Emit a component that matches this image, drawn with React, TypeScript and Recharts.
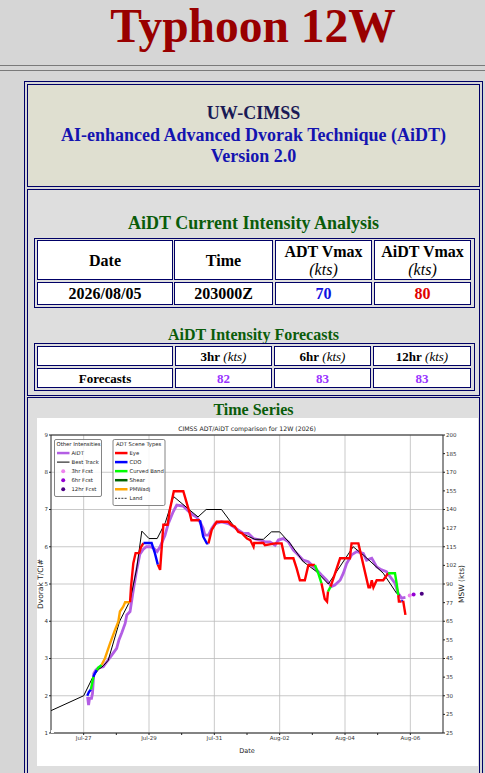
import React from 'react';
import { ComposedChart, Line, XAxis, YAxis, CartesianGrid, ReferenceLine, Label } from 'recharts';

// ---------- data ----------
const dayLabels = ['Jul-26', 'Jul-27', 'Jul-28', 'Jul-29', 'Jul-30', 'Jul-31', 'Aug-01', 'Aug-02', 'Aug-03', 'Aug-04', 'Aug-05', 'Aug-06', 'Aug-07'];
const xTicks = [1, 2, 3, 4, 5, 6, 7, 8, 9, 10, 11];
const labeledDays = [1, 3, 5, 7, 9, 11];
const tTicks = [1, 2, 3, 4, 5, 6, 7, 8, 9];
const mswTicks = [1, 1.5, 2, 2.5, 3, 3.5, 4, 4.5, 5, 5.5, 6, 6.5, 7, 7.5, 8, 8.5, 9];
const mswLabels = ['25', '25', '30', '35', '45', '55', '65', '77', '90', '102', '115', '127', '140', '155', '170', '185', '200'];

// days since Jul-26 00Z, Dvorak T number
const bestTrack: [number, number][] = [
  [0, 1.6], [1.0, 2.0], [1.28, 2.5], [1.45, 2.7], [1.6, 2.8], [1.75, 2.95], [2.1, 4.0], [2.42, 4.55],
  [2.62, 5.4], [2.78, 6.42], [3.0, 6.22], [3.25, 6.22], [3.5, 6.65], [3.75, 7.35], [4.5, 6.8], [4.75, 7.0],
  [5.22, 7.0], [5.73, 6.4], [6.24, 6.2], [6.5, 6.2], [6.75, 6.4], [7.0, 6.4], [7.32, 6.09], [7.72, 5.6],
  [8.13, 5.33], [8.49, 5.0], [9.25, 6.0], [9.56, 5.78], [10.17, 5.29], [10.58, 4.75], [10.68, 4.7],
];

const aidt: [number, number][] = [
  [1.12, 1.97], [1.15, 1.75], [1.18, 1.93], [1.24, 1.93], [1.27, 2.06], [1.31, 2.6], [1.37, 2.69], [1.45, 2.75],
  [1.6, 2.78], [1.7, 2.9], [1.86, 3.09], [2.01, 3.27], [2.08, 3.5], [2.17, 3.7], [2.27, 3.94], [2.32, 4.17],
  [2.42, 4.26], [2.52, 4.84], [2.62, 5.37], [2.72, 5.8], [2.82, 5.93], [2.92, 6.0], [3.03, 6.0], [3.13, 5.97],
  [3.25, 5.87], [3.34, 6.0], [3.49, 6.31], [3.59, 6.62], [3.74, 6.94], [3.85, 7.12], [4.05, 7.09], [4.2, 6.96],
  [4.35, 6.85], [4.45, 6.8], [4.56, 6.67], [4.66, 6.49], [4.71, 6.31], [4.82, 6.31], [4.92, 6.49], [5.02, 6.62],
  [5.22, 6.67], [5.43, 6.62], [5.58, 6.54], [5.73, 6.45], [5.89, 6.36], [6.04, 6.36], [6.2, 6.22], [6.4, 6.18],
  [6.55, 6.13], [6.7, 6.13], [6.86, 6.04], [6.96, 6.18], [7.11, 6.22], [7.27, 6.13], [7.42, 5.91], [7.57, 5.78],
  [7.72, 5.64], [7.88, 5.6], [7.98, 5.51], [8.13, 5.38], [8.28, 5.24], [8.44, 5.1], [8.59, 4.93], [8.69, 4.97],
  [8.85, 5.1], [8.95, 5.29], [9.05, 5.55], [9.2, 5.78], [9.36, 5.87], [9.56, 5.82], [9.66, 5.64], [9.82, 5.69],
  [9.97, 5.46], [10.12, 5.38], [10.27, 5.33], [10.38, 5.2], [10.53, 5.02], [10.63, 4.75], [10.73, 4.62], [10.85, 4.64],
];

// ADT: [day, T, scene of the segment ending at this point]  E=Eye C=CDO B=Curved Band S=Shear P=PMWadj
const adtTrack: [number, number, string][] = [
  [1.11, 2.0, 'C'], [1.16, 2.1, 'C'], [1.22, 2.17, 'C'], [1.30, 2.51, 'B'], [1.32, 2.56, 'C'], [1.40, 2.69, 'C'],
  [1.45, 2.76, 'B'], [1.55, 2.83, 'B'], [1.65, 3.0, 'P'], [1.81, 3.41, 'P'], [1.96, 3.77, 'P'], [2.06, 3.99, 'P'],
  [2.11, 4.26, 'P'], [2.21, 4.39, 'P'], [2.27, 4.51, 'P'], [2.42, 4.51, 'P'], [2.45, 4.93, 'E'], [2.52, 5.56, 'E'],
  [2.59, 5.83, 'E'], [2.70, 5.83, 'E'], [2.76, 6.0, 'E'], [2.83, 6.1, 'E'], [3.08, 6.1, 'C'], [3.18, 5.83, 'C'],
  [3.27, 5.52, 'C'], [3.34, 5.38, 'E'], [3.44, 6.59, 'E'], [3.57, 6.59, 'E'], [3.64, 7.0, 'E'], [3.76, 7.49, 'E'],
  [4.05, 7.49, 'E'], [4.25, 6.89, 'E'], [4.30, 6.71, 'E'], [4.56, 6.71, 'E'], [4.66, 6.27, 'C'], [4.77, 6.09, 'C'],
  [4.82, 6.09, 'C'], [4.92, 6.45, 'E'], [5.07, 6.67, 'E'], [5.43, 6.67, 'E'], [5.53, 6.58, 'E'], [5.63, 6.54, 'E'],
  [5.73, 6.4, 'E'], [5.85, 6.36, 'E'], [6.0, 6.22, 'E'], [6.1, 6.18, 'E'], [6.2, 6.0, 'E'], [6.22, 6.1, 'E'],
  [6.5, 6.1, 'E'], [6.55, 6.04, 'E'], [6.86, 6.09, 'E'], [7.06, 6.09, 'E'], [7.16, 5.69, 'E'], [7.42, 5.69, 'E'],
  [7.52, 5.42, 'E'], [7.62, 5.1, 'E'], [7.77, 5.1, 'E'], [7.88, 5.51, 'E'], [8.08, 5.51, 'E'], [8.18, 5.29, 'B'],
  [8.28, 5.02, 'B'], [8.38, 4.6, 'E'], [8.45, 4.53, 'E'], [8.48, 4.8, 'E'], [8.56, 4.93, 'B'], [8.85, 5.69, 'E'],
  [9.15, 5.69, 'E'], [9.2, 6.09, 'E'], [9.41, 6.09, 'E'], [9.72, 4.91, 'E'], [9.77, 4.91, 'E'], [9.82, 5.1, 'E'],
  [9.87, 4.91, 'E'], [9.97, 5.1, 'E'], [10.17, 5.1, 'E'], [10.32, 5.29, 'E'], [10.53, 5.29, 'B'], [10.58, 5.02, 'B'],
  [10.63, 4.7, 'B'], [10.65, 4.53, 'E'], [10.73, 4.53, 'E'], [10.78, 4.55, 'C'], [10.85, 4.17, 'E'],
];

const fcst3: [number, number][] = [[10.98, 4.69]];
const fcst6: [number, number][] = [[11.1, 4.72]];
const fcst12: [number, number][] = [[11.35, 4.74]];

const sceneColor: Record<string, string> = { E: '#ff0000', C: '#0000ff', B: '#00ff00', S: '#006400', P: '#ffa500' };

const AIDT_C = '#b35ee4';
const F3_C = '#ee82ee';
const F6_C = '#9400d3';
const F12_C = '#4b0082';

const toPts = (a: [number, number][]) => a.map(([d, t]) => ({ d, t }));

const adtSegments: { scene: string; pts: { d: number; t: number }[] }[] = [];
for (let i = 1; i < adtTrack.length; i++) {
  const [d0, t0] = adtTrack[i - 1];
  const [d1, t1, s] = adtTrack[i];
  const last = adtSegments[adtSegments.length - 1];
  if (last && last.scene === s) last.pts.push({ d: d1, t: t1 });
  else adtSegments.push({ scene: s, pts: [{ d: d0, t: t0 }, { d: d1, t: t1 }] });
}

// ---------- page helpers ----------
const NAVY = '#000066';
const SERIF = '"Liberation Serif", "Times New Roman", serif';
const SANS = '"DejaVu Sans", Verdana, sans-serif';

const Box = ({ l, t, w, h, bg, children, style }: any) => (
  <div style={{ position: 'absolute', left: l, top: t, width: w, height: h, boxSizing: 'border-box', border: `1px solid ${NAVY}`, background: bg, ...style }}>{children}</div>
);

const Txt = ({ l, w, cy, size, color, bold = true, italic = false, lh, children }: any) => {
  const L = lh || size + 4;
  return (
    <div style={{ position: 'absolute', left: l, width: w, top: cy - L / 2, lineHeight: `${L}px`, fontSize: size, color, fontWeight: bold ? 'bold' : 'normal', fontStyle: italic ? 'italic' : 'normal', textAlign: 'center', whiteSpace: 'nowrap', fontFamily: SERIF }}>{children}</div>
  );
};

const Cell = ({ l, t, w, h, children, pt = 0 }: any) => (
  <div style={{ position: 'absolute', left: l, top: t, width: w, height: h, boxSizing: 'border-box', border: `1px solid ${NAVY}`, background: '#ffffff', display: 'flex', flexDirection: 'column', alignItems: 'center', justifyContent: 'center', paddingTop: pt, fontFamily: SERIF, textAlign: 'center', whiteSpace: 'nowrap' }}>{children}</div>
);

const tickStyle = { fontSize: 5.5, fill: '#333', fontFamily: SANS };

const LegendRow = ({ x, y, kind, color, label }: any) => (
  <g>
    {kind === 'line' && <line x1={x} x2={x + 12.5} y1={y} y2={y} stroke={color} strokeWidth={2.5} />}
    {kind === 'thin' && <line x1={x} x2={x + 12.5} y1={y} y2={y} stroke={color} strokeWidth={1} />}
    {kind === 'dash' && <line x1={x} x2={x + 12.5} y1={y} y2={y} stroke={color} strokeWidth={0.8} strokeDasharray="2 1.2" />}
    {kind === 'dot' && <circle cx={x + 6.2} cy={y} r={2} fill={color} />}
    <text x={x + 14.5} y={y} dominantBaseline="central" fontSize={5.3} fill="#222" fontFamily={SANS}>{label}</text>
  </g>
);

function TimeSeriesChart() {
  const rowY = (i: number) => 26 + i * 9.05;
  return (
    <div style={{ position: 'absolute', left: 37, top: 418, width: 441, height: 348, background: '#ffffff' }}>
      <div style={{ position: 'absolute', left: 14, width: 392, top: 7, lineHeight: '8px', fontSize: 6.2, fontFamily: SANS, color: '#222', textAlign: 'center', whiteSpace: 'nowrap' }}>
        CIMSS ADT/AiDT comparison for 12W (2026)
      </div>
      <ComposedChart width={441} height={348} margin={{ top: 17, right: 0, bottom: 0, left: 0 }}>
        <CartesianGrid yAxisId="left" vertical={false} stroke="#bbbbbb" strokeWidth={0.8} />
        {labeledDays.map((d) => (
          <ReferenceLine key={`g${d}`} x={d} yAxisId="left" stroke="#bbbbbb" strokeWidth={0.8} />
        ))}
        <ReferenceLine y={9} yAxisId="left" stroke="#222" strokeWidth={1} />
        <XAxis
          dataKey="d"
          type="number"
          domain={[0, 12]}
          allowDataOverflow
          ticks={xTicks}
          interval={0}
          tickFormatter={(v: number) => (labeledDays.includes(v) ? dayLabels[v] : '')}
          tick={tickStyle}
          tickSize={2}
          tickMargin={1}
          stroke="#222"
          height={33}
        >
          <Label value="Date" position="insideBottom" offset={13} style={{ fontSize: 6.5, fill: '#222', fontFamily: SANS }} />
        </XAxis>
        <YAxis
          yAxisId="left"
          type="number"
          domain={[1, 9]}
          allowDataOverflow
          ticks={tTicks}
          interval={0}
          tick={tickStyle}
          tickSize={2}
          tickMargin={1}
          stroke="#222"
          width={14}
        >
          <Label value="Dvorak T/CI#" angle={-90} position="center" dx={-4} style={{ fontSize: 7.5, fill: '#222', fontFamily: SANS, textAnchor: 'middle' }} />
        </YAxis>
        <YAxis
          yAxisId="right"
          orientation="right"
          type="number"
          domain={[1, 9]}
          allowDataOverflow
          ticks={mswTicks}
          interval={0}
          tickFormatter={(v: number) => mswLabels[mswTicks.indexOf(v)]}
          tick={tickStyle}
          tickSize={2}
          tickMargin={1}
          stroke="#222"
          width={35}
        >
          <Label value="MSW (kts)" angle={-90} position="center" dx={1} style={{ fontSize: 7.5, fill: '#222', fontFamily: SANS, textAnchor: 'middle' }} />
        </YAxis>
        <Line yAxisId="right" data={toPts([[0, 1]])} dataKey="t" stroke="none" dot={false} isAnimationActive={false} legendType="none" />
        <Line yAxisId="left" data={toPts(aidt)} dataKey="t" type="linear" stroke={AIDT_C} strokeWidth={2.8} dot={false} isAnimationActive={false} />
        <Line yAxisId="left" data={toPts(bestTrack)} dataKey="t" type="linear" stroke="#000000" strokeWidth={1} dot={false} isAnimationActive={false} />
        {adtSegments.map((s, i) => (
          <Line key={`s${i}`} yAxisId="left" data={s.pts} dataKey="t" type="linear" stroke={sceneColor[s.scene]} strokeWidth={2.4} dot={false} isAnimationActive={false} />
        ))}
        <Line yAxisId="left" data={toPts(fcst3)} dataKey="t" stroke="none" dot={{ r: 2, fill: F3_C, stroke: 'none' }} isAnimationActive={false} />
        <Line yAxisId="left" data={toPts(fcst6)} dataKey="t" stroke="none" dot={{ r: 2, fill: F6_C, stroke: 'none' }} isAnimationActive={false} />
        <Line yAxisId="left" data={toPts(fcst12)} dataKey="t" stroke="none" dot={{ r: 2, fill: F12_C, stroke: 'none' }} isAnimationActive={false} />
      </ComposedChart>
      <svg width={441} height={348} style={{ position: 'absolute', left: 0, top: 0, pointerEvents: 'none' }}>
        <rect x={17.5} y={21.5} width={47} height={57} rx={1.5} fill="#ffffff" fillOpacity={0.85} stroke="#666" strokeWidth={0.8} />
        <text x={19.5} y={rowY(0)} dominantBaseline="central" fontSize={5.3} fill="#222" fontFamily={SANS}>Other Intensities</text>
        <LegendRow x={20} y={rowY(1)} kind="line" color={AIDT_C} label="AiDT" />
        <LegendRow x={20} y={rowY(2)} kind="thin" color="#000" label="Best Track" />
        <LegendRow x={20} y={rowY(3)} kind="dot" color={F3_C} label="3hr Fcst" />
        <LegendRow x={20} y={rowY(4)} kind="dot" color={F6_C} label="6hr Fcst" />
        <LegendRow x={20} y={rowY(5)} kind="dot" color={F12_C} label="12hr Fcst" />

        <rect x={76} y={21.5} width={52} height={66} rx={1.5} fill="#ffffff" fillOpacity={0.85} stroke="#666" strokeWidth={0.8} />
        <text x={79} y={rowY(0)} dominantBaseline="central" fontSize={5.3} fill="#222" fontFamily={SANS}>ADT Scene Types</text>
        <LegendRow x={78} y={rowY(1)} kind="line" color={sceneColor.E} label="Eye" />
        <LegendRow x={78} y={rowY(2)} kind="line" color={sceneColor.C} label="CDO" />
        <LegendRow x={78} y={rowY(3)} kind="line" color={sceneColor.B} label="Curved Band" />
        <LegendRow x={78} y={rowY(4)} kind="line" color={sceneColor.S} label="Shear" />
        <LegendRow x={78} y={rowY(5)} kind="line" color={sceneColor.P} label="PMWadj" />
        <LegendRow x={78} y={rowY(6)} kind="dash" color="#000" label="Land" />
      </svg>
    </div>
  );
}

export default function App() {
  return (
    <div style={{ position: 'absolute', left: 0, top: 0, width: 485, height: 773, overflow: 'hidden', background: '#d6d6d6', fontFamily: SERIF }}>
      {/* header */}
      <div style={{ position: 'absolute', left: 21, width: 464, top: 0, height: 53, lineHeight: '53px', fontSize: 47.5, fontWeight: 'bold', color: '#990000', textAlign: 'center', whiteSpace: 'nowrap' }}>
        Typhoon 12W
      </div>
      <div style={{ position: 'absolute', left: 0, width: 485, top: 65, height: 1, background: '#7a7a7a' }} />
      <div style={{ position: 'absolute', left: 0, width: 485, top: 70, height: 1, background: '#7a7a7a' }} />

      {/* outer table */}
      <Box l={24} t={81} w={459} h={720} bg="transparent" />

      {/* cell 1 */}
      <Box l={27} t={84} w={453} h={103} bg="#dfdfd0" />
      <Txt l={27} w={453} cy={113} size={18} color="#1a1a55">UW-CIMSS</Txt>
      <Txt l={27} w={453} cy={135} size={18} color="#1414b0">AI-enhanced Advanced Dvorak Technique (AiDT)</Txt>
      <Txt l={27} w={453} cy={156} size={18} color="#1414b0">Version 2.0</Txt>

      {/* cell 2 */}
      <Box l={27} t={189} w={453} h={207} bg="#dedede" />
      <Txt l={27} w={453} cy={223} size={18} color="#0a5c0a">AiDT Current Intensity Analysis</Txt>

      <Box l={34} t={238} w={441} h={70} bg="transparent" />
      <Cell l={37} t={240} w={136} h={40} pt={2}><span style={{ fontWeight: 'bold', fontSize: 16 }}>Date</span></Cell>
      <Cell l={174} t={240} w={99} h={40} pt={2}><span style={{ fontWeight: 'bold', fontSize: 16 }}>Time</span></Cell>
      <Cell l={275} t={240} w={97} h={40} pt={2}>
        <span style={{ fontWeight: 'bold', fontSize: 16, lineHeight: '18px' }}>ADT Vmax</span>
        <span style={{ fontStyle: 'italic', fontSize: 16, lineHeight: '18px' }}>(kts)</span>
      </Cell>
      <Cell l={374} t={240} w={97} h={40} pt={2}>
        <span style={{ fontWeight: 'bold', fontSize: 16, lineHeight: '18px' }}>AiDT Vmax</span>
        <span style={{ fontStyle: 'italic', fontSize: 16, lineHeight: '18px' }}>(kts)</span>
      </Cell>
      <Cell l={37} t={282} w={136} h={23} pt={1}><span style={{ fontWeight: 'bold', fontSize: 16 }}>2026/08/05</span></Cell>
      <Cell l={174} t={282} w={99} h={23} pt={1}><span style={{ fontWeight: 'bold', fontSize: 16 }}>203000Z</span></Cell>
      <Cell l={275} t={282} w={97} h={23} pt={1}><span style={{ fontWeight: 'bold', fontSize: 16, color: '#1010e0' }}>70</span></Cell>
      <Cell l={374} t={282} w={97} h={23} pt={1}><span style={{ fontWeight: 'bold', fontSize: 16, color: '#e00000' }}>80</span></Cell>

      <Txt l={27} w={453} cy={335} size={16} color="#0a5c0a">AiDT Intensity Forecasts</Txt>
      <Box l={34} t={343} w={441} h={48} bg="transparent" />
      <Cell l={37} t={346} w={136} h={20} />
      <Cell l={175} t={346} w={97} h={20} pt={2}><span style={{ fontSize: 13 }}><b>3hr</b> <i>(kts)</i></span></Cell>
      <Cell l={274} t={346} w={97} h={20} pt={2}><span style={{ fontSize: 13 }}><b>6hr</b> <i>(kts)</i></span></Cell>
      <Cell l={373} t={346} w={98} h={20} pt={2}><span style={{ fontSize: 13 }}><b>12hr</b> <i>(kts)</i></span></Cell>
      <Cell l={37} t={368} w={136} h={20} pt={2}><span style={{ fontSize: 13, fontWeight: 'bold' }}>Forecasts</span></Cell>
      <Cell l={175} t={368} w={97} h={20} pt={2}><span style={{ fontSize: 13, fontWeight: 'bold', color: '#9933ff' }}>82</span></Cell>
      <Cell l={274} t={368} w={97} h={20} pt={2}><span style={{ fontSize: 13, fontWeight: 'bold', color: '#9933ff' }}>83</span></Cell>
      <Cell l={373} t={368} w={98} h={20} pt={2}><span style={{ fontSize: 13, fontWeight: 'bold', color: '#9933ff' }}>83</span></Cell>

      {/* cell 3 */}
      <Box l={27} t={397} w={453} h={400} bg="#dedede" />
      <Txt l={27} w={453} cy={410} size={16} color="#0a5c0a">Time Series</Txt>
      <TimeSeriesChart />
    </div>
  );
}
